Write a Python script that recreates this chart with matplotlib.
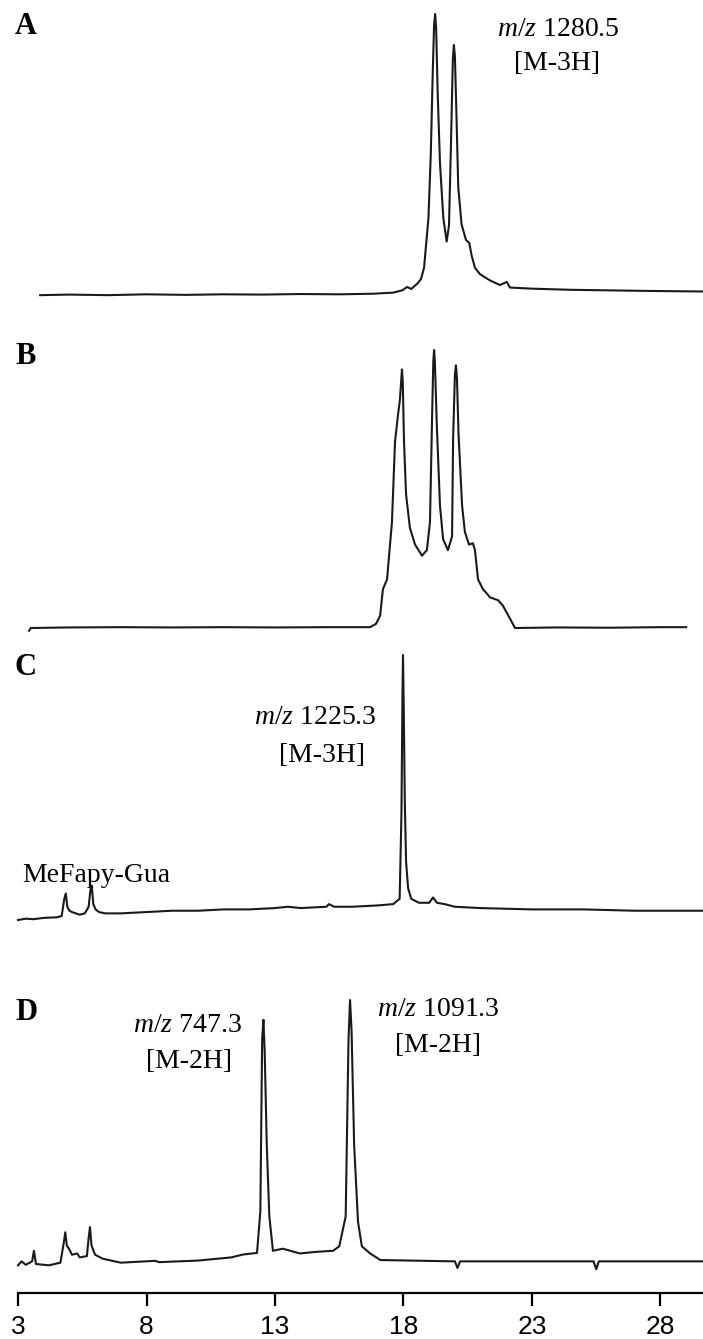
import matplotlib
matplotlib.use("Agg")
import matplotlib.pyplot as plt

# ---------------- data (retention time in min, relative intensity %) ----------------
t_A = [3.86, 5.0, 6.5, 8.0, 9.5, 11.0, 12.5, 14.0, 15.5, 16.8, 17.6, 17.95, 18.14, 18.3,
       18.55, 18.68, 18.8, 18.97, 19.06, 19.14, 19.19, 19.23, 19.27, 19.33, 19.42, 19.55,
       19.68, 19.77, 19.85, 19.92, 19.96, 20.0, 20.05, 20.13, 20.26, 20.43, 20.56, 20.65,
       20.78, 20.98, 21.37, 21.75, 22.02, 22.14, 23.0, 24.5, 26.0, 27.5, 29.65]
i_A = [0.3, 0.5, 0.3, 0.6, 0.4, 0.6, 0.5, 0.7, 0.6, 0.8, 1.2, 2.0, 3.2, 2.5,
       4.5, 6.0, 10.0, 27.6, 49.7, 80.0, 96.0, 100.0, 95.0, 72.0, 47.0, 27.6,
       19.3, 25.0, 55.0, 84.0, 89.0, 85.0, 68.0, 38.7, 25.4, 19.9, 18.8, 14.4,
       10.0, 7.7, 5.5, 3.9, 5.0, 3.0, 2.6, 2.2, 2.0, 1.8, 1.6]

t_B = [3.43, 3.5, 5.0, 7.0, 9.0, 11.0, 13.0, 15.0, 16.7, 16.93, 17.09, 17.2, 17.36, 17.55,
       17.67, 17.79, 17.86, 17.91, 17.94, 17.97, 18.02, 18.1, 18.25, 18.45, 18.72, 18.91,
       19.03, 19.11, 19.16, 19.19, 19.22, 19.3, 19.42, 19.54, 19.73, 19.89, 19.93, 20.0,
       20.04, 20.08, 20.14, 20.28, 20.39, 20.55, 20.7, 20.78, 20.9, 21.09, 21.37, 21.68,
       21.87, 22.34, 24.0, 26.0, 28.0, 29.0]
i_B = [-1.0, 0.0, 0.2, 0.3, 0.2, 0.3, 0.2, 0.3, 0.3, 1.5, 4.4, 14.0, 17.5, 38.0,
       67.0, 77.0, 82.0, 89.0, 93.0, 89.0, 67.0, 48.0, 36.0, 30.0, 26.0, 28.0,
       38.0, 75.0, 96.0, 100.0, 96.0, 72.0, 44.0, 32.0, 28.0, 33.0, 68.0, 91.0,
       94.5, 90.0, 70.0, 44.0, 34.5, 30.0, 30.5, 28.0, 17.5, 14.0, 11.0, 10.0,
       8.0, 0.0, 0.2, 0.1, 0.3, 0.3]

t_C = [3.0, 3.3, 3.6, 4.0, 4.5, 4.7, 4.8, 4.86, 4.92, 5.0, 5.1, 5.25, 5.4, 5.6, 5.75,
       5.82, 5.87, 5.93, 6.02, 6.15, 6.4, 7.0, 8.0, 9.0, 10.0, 11.0, 12.0, 13.0, 13.5,
       14.0, 15.0, 15.1, 15.3, 16.0, 17.0, 17.6, 17.85, 17.92, 17.96, 17.98, 18.01, 18.05,
       18.1, 18.18, 18.3, 18.6, 19.0, 19.15, 19.3, 19.6, 20.0, 21.0, 23.0, 25.0, 27.0, 29.65]
i_C = [0.0, 0.5, 0.3, 0.8, 1.0, 1.5, 8.0, 10.0, 5.0, 3.5, 3.0, 2.5, 2.0, 2.5, 5.0,
       11.5, 13.0, 6.0, 4.0, 3.0, 2.5, 2.5, 3.0, 3.5, 3.5, 4.0, 4.0, 4.5, 5.0,
       4.5, 5.0, 6.0, 5.0, 5.0, 5.5, 6.0, 8.0, 40.0, 85.0, 100.0, 80.0, 45.0,
       22.0, 12.0, 8.0, 6.5, 6.5, 8.5, 6.5, 6.0, 5.0, 4.5, 4.0, 4.0, 3.5, 3.5]

t_D = [3.0, 3.14, 3.3, 3.55, 3.62, 3.7, 4.2, 4.65, 4.78, 4.84, 4.9, 5.0, 5.1, 5.3, 5.4,
       5.68, 5.75, 5.8, 5.86, 6.0, 6.3, 7.0, 8.33, 8.5, 10.0, 11.3, 11.76, 12.3, 12.43,
       12.5, 12.55, 12.6, 12.68, 12.78, 12.92, 13.3, 13.97, 14.6, 15.26, 15.5, 15.75, 15.86,
       15.92, 15.98, 16.08, 16.23, 16.38, 16.7, 17.1, 20.0, 20.1, 20.2, 25.4, 25.5, 25.6,
       29.65]
i_D = [-0.5, 1.0, -0.3, 1.0, 5.0, 0.0, -0.5, 0.5, 8.0, 12.0, 7.0, 5.5, 3.5, 4.0, 2.5,
       3.0, 10.0, 14.0, 7.0, 3.5, 2.0, 0.5, 1.2, 0.7, 1.3, 2.5, 3.6, 4.2, 20.0,
       85.0, 92.5, 80.0, 45.0, 18.0, 5.0, 5.8, 4.0, 4.6, 5.0, 6.7, 18.0, 85.0,
       100.0, 88.0, 45.0, 16.0, 6.7, 4.0, 1.5, 1.0, -1.5, 1.0, 1.0, -2.0, 1.0,
       1.0]

x_ticks = [3, 8, 13, 18, 23, 28]

# ---------------- layout (pixels) ----------------
W, H = 703, 1339
x0_px = 18.0          # position of t = 3
ppu = 25.7            # pixels per minute
x_max = 3 + (W - x0_px) / ppu

plt.rcParams['font.family'] = ['Liberation Serif', 'DejaVu Serif']
plt.rcParams['mathtext.fontset'] = 'custom'
plt.rcParams['mathtext.rm'] = 'Liberation Serif'
plt.rcParams['mathtext.it'] = 'Liberation Serif:italic'
fig = plt.figure(figsize=(W / 100, H / 100), dpi=100)
fig.patch.set_facecolor('white')


def panel(base_px, top_px, t, inten):
    ax = fig.add_axes([x0_px / W, 1 - base_px / H, (W - x0_px) / W, (base_px - top_px) / H])
    ax.plot(t, inten, color='#1a1a1a', lw=1.5, clip_on=False, solid_joinstyle='round')
    ax.set_xlim(3, x_max)
    ax.set_ylim(0, 100)
    ax.axis('off')
    return ax


panel(296, 14, t_A, i_A)
panel(628, 350, t_B, i_B)
panel(920, 655, t_C, i_C)
panel(1264, 1000, t_D, i_D)

# bottom time axis
axis_px = 1293
axb = fig.add_axes([x0_px / W, 1 - axis_px / H, (W - x0_px) / W, 1e-4])
axb.set_xlim(3, x_max)
axb.set_yticks([])
for s in ['top', 'left', 'right']:
    axb.spines[s].set_visible(False)
axb.spines['bottom'].set_linewidth(1.6)
axb.set_xticks(x_ticks)
axb.set_xticklabels([str(v) for v in x_ticks], family='Liberation Sans', fontsize=19)
axb.tick_params(axis='x', direction='out', length=9, width=1.6, pad=7)


def ftext(xp, yp, s, **kw):
    fig.text(xp / W, 1 - yp / H, s, **kw)


lab = dict(fontsize=22, fontweight='bold', va='center', ha='left')
ftext(15, 27, 'A', **lab)
ftext(15, 357, 'B', **lab)
ftext(15, 667, 'C', **lab)
ftext(15, 1012, 'D', **lab)

ann = dict(fontsize=20, va='center', ha='center')
ftext(558, 30, r'$\it{m/z}$ 1280.5', **ann)
ftext(557, 64, '[M-3H]', **ann)
ftext(315, 718, r'$\it{m/z}$ 1225.3', **ann)
ftext(322, 755, '[M-3H]', **ann)
ftext(22, 876, 'MeFapy-Gua', fontsize=20, va='center', ha='left')
ftext(187, 1025, r'$\it{m/z}$ 747.3', **ann)
ftext(189, 1062, '[M-2H]', **ann)
ftext(438, 1010, r'$\it{m/z}$ 1091.3', **ann)
ftext(438, 1046, '[M-2H]', **ann)

fig.savefig('out.png', dpi=100, facecolor='white')
